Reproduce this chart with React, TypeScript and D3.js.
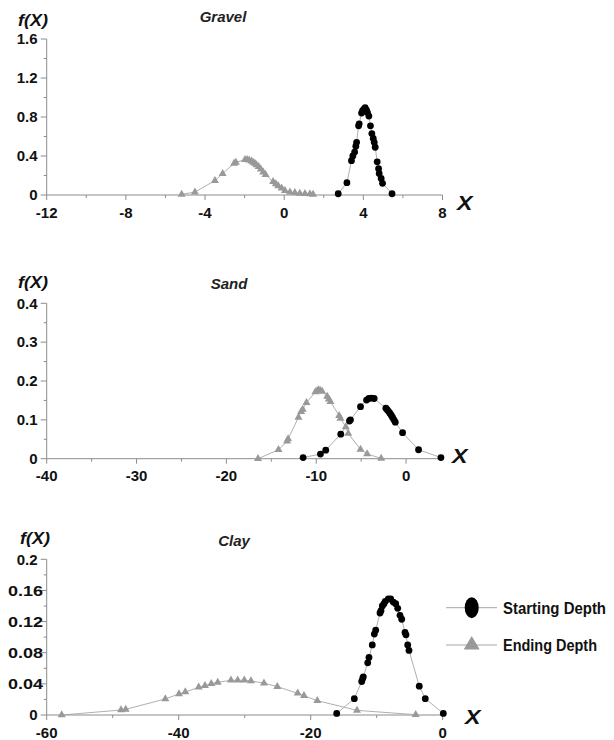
import React from "react";
import * as d3 from "d3";

// ---------- data ----------
const gravelStartX = [2.73, 3.17, 3.40, 3.47, 3.56, 3.62, 3.66, 3.76, 3.79, 3.91, 3.96, 4.03, 4.09, 4.16, 4.21, 4.28, 4.36, 4.43, 4.50, 4.55, 4.60, 4.70, 4.77, 4.80, 4.90, 4.97, 5.45];
const gravelStartY = [0.013, 0.126, 0.352, 0.40, 0.44, 0.50, 0.54, 0.71, 0.73, 0.84, 0.865, 0.88, 0.895, 0.87, 0.845, 0.81, 0.71, 0.63, 0.58, 0.54, 0.49, 0.34, 0.27, 0.22, 0.17, 0.12, 0.013];
const gravelEndX = [-5.18, -4.51, -3.50, -3.11, -2.53, -2.44, -1.98, -1.87, -1.77, -1.65, -1.57, -1.48, -1.40, -1.29, -1.18, -1.06, -0.94, -0.56, -0.42, -0.30, -0.13, 0.04, 0.29, 0.54, 0.79, 1.05, 1.30, 1.46];
const gravelEndY = [0.007, 0.03, 0.147, 0.22, 0.325, 0.335, 0.362, 0.362, 0.356, 0.346, 0.335, 0.325, 0.308, 0.29, 0.264, 0.233, 0.208, 0.137, 0.113, 0.092, 0.069, 0.044, 0.028, 0.024, 0.017, 0.014, 0.01, 0.007];

const sandStartX = [-11.46, -9.53, -8.94, -7.27, -6.30, -6.19, -5.07, -4.40, -4.15, -3.85, -3.55, -2.25, -2.10, -1.95, -1.80, -1.65, -1.50, -1.35, -1.20, -0.39, 1.39, 3.88];
const sandStartY = [0.003, 0.012, 0.022, 0.063, 0.097, 0.10, 0.134, 0.151, 0.155, 0.156, 0.155, 0.130, 0.126, 0.122, 0.117, 0.112, 0.106, 0.100, 0.094, 0.067, 0.023, 0.003];
const sandEndX = [-16.48, -14.2, -13.24, -13.13, -11.98, -11.68, -11.50, -11.09, -10.09, -9.90, -9.72, -9.53, -9.34, -8.78, -8.60, -8.42, -7.45, -7.30, -6.71, -6.44, -5.07, -4.33, -2.77];
const sandEndY = [0, 0.023, 0.045, 0.051, 0.106, 0.121, 0.127, 0.144, 0.172, 0.175, 0.177, 0.175, 0.173, 0.16, 0.153, 0.147, 0.111, 0.104, 0.082, 0.065, 0.024, 0.012, 0.001];

const clayStartX = [-16.06, -13.39, -12.27, -12.12, -12.03, -11.36, -11.17, -10.67, -10.36, -10.15, -9.5, -9.35, -9.15, -8.9, -8.7, -8.24, -7.88, -7.48, -7.12, -6.82, -6.47, -6.21, -5.71, -5.56, -5.30, -5.11, -3.55, -2.64, 0.09];
const clayStartY = [0.002, 0.021, 0.043, 0.047, 0.049, 0.067, 0.074, 0.090, 0.104, 0.109, 0.131, 0.134, 0.140, 0.143, 0.146, 0.149, 0.149, 0.145, 0.143, 0.137, 0.128, 0.123, 0.106, 0.103, 0.090, 0.083, 0.037, 0.021, 0.002];
const clayEndX = [-57.73, -48.74, -48.03, -42.03, -39.95, -39.0, -36.97, -36.02, -35.06, -34.09, -32.08, -31.06, -30.06, -29.05, -27.08, -25.06, -21.97, -21.02, -19.0, -12.99, -4.09];
const clayEndY = [0, 0.0064, 0.0073, 0.0206, 0.027, 0.0295, 0.0356, 0.0376, 0.0402, 0.042, 0.0446, 0.0446, 0.0446, 0.0437, 0.041, 0.0364, 0.0279, 0.0248, 0.0184, 0.006, 0.0004];

const gravelXTicks = [-12, -8, -4, 0, 4, 8];
const gravelYTicks = [0, 0.4, 0.8, 1.2, 1.6];
const sandXTicks = [-40, -30, -20, -10, 0];
const sandYTicks = [0, 0.1, 0.2, 0.3, 0.4];
const clayXTicks = [-60, -40, -20, 0];
const clayYTicks = [0, 0.04, 0.08, 0.12, 0.16, 0.2];

const titles = ["Gravel", "Sand", "Clay"];
const legendLabels = ["Starting Depth", "Ending Depth"];

// ---------- layout ----------
const FONT = "'Liberation Sans', Arial, Helvetica, sans-serif";
const LINE = "#a6a6a6";
const AXIS = "#8c8c8c";
const GRAY = "#999999";

const zip = (xs: number[], ys: number[]) => xs.map((x, i) => ({ x, y: ys[i] }));

const panels = [
  {
    title: titles[0], xDomain: [-12, 8], xTicks: gravelXTicks, xMinor: 2,
    yDomain: [0, 1.6], yTicks: gravelYTicks, yMinor: 0.2,
    px: [46.7, 442.5], py: [195, 39], titleX: 223, titleY: 16, fxY: 20, fxX: 18,
    XX: 457, XY: 202,
    start: zip(gravelStartX, gravelStartY), end: zip(gravelEndX, gravelEndY),
  },
  {
    title: titles[1], xDomain: [-40, 4], xTicks: sandXTicks, xMinor: 5,
    yDomain: [0, 0.4], yTicks: sandYTicks, yMinor: 0.05,
    px: [46.7, 442], py: [458.7, 303.3], titleX: 229, titleY: 283, fxY: 282, fxX: 18,
    XX: 452, XY: 455,
    start: zip(sandStartX, sandStartY), end: zip(sandEndX, sandEndY),
  },
  {
    title: titles[2], xDomain: [-60, 0], xTicks: clayXTicks, xMinor: 10,
    yDomain: [0, 0.2], yTicks: clayYTicks, yMinor: 0.02,
    px: [46.7, 442.7], py: [715, 559.3], titleX: 234, titleY: 540, fxY: 538, fxX: 20,
    XX: 465, XY: 716,
    start: zip(clayStartX, clayStartY), end: zip(clayEndX, clayEndY),
  },
];

const fmt = (v: number) => String(+v.toFixed(3));

function triPath(cx: number, cy: number, w: number, h: number) {
  return `M${cx - w / 2},${cy + h / 3}L${cx + w / 2},${cy + h / 3}L${cx},${cy - (2 * h) / 3}Z`;
}

function Panel({ p }: { p: any }) {
  const x = d3.scaleLinear().domain(p.xDomain).range(p.px);
  const y = d3.scaleLinear().domain(p.yDomain).range(p.py);
  const line = d3.line<any>().x((d) => x(d.x)).y((d) => y(d.y));
  const sortedStart = [...p.start].sort((a, b) => a.x - b.x);
  const sortedEnd = [...p.end].sort((a, b) => a.x - b.x);

  const xMinorTicks = d3.range(p.xDomain[0], p.xDomain[1] + 1e-9, p.xMinor).filter(
    (v: number) => !p.xTicks.some((t: number) => Math.abs(t - v) < 1e-9)
  );
  const yMinorTicks = d3.range(p.yDomain[0], p.yDomain[1] + 1e-9, p.yMinor).filter(
    (v: number) => !p.yTicks.some((t: number) => Math.abs(t - v) < 1e-9)
  );
  const y0 = y(0);
  const xl = p.px[0];

  return (
    <g>
      {/* axes */}
      <line x1={xl} x2={p.px[1]} y1={y0} y2={y0} stroke={AXIS} strokeWidth={1} />
      <line x1={xl} x2={xl} y1={y0} y2={p.py[1]} stroke={AXIS} strokeWidth={1} />
      {p.xTicks.map((t: number) => (
        <g key={"xt" + t}>
          <line x1={x(t)} x2={x(t)} y1={y0} y2={y0 + 5} stroke={AXIS} strokeWidth={1} />
          <text x={x(t)} y={y0 + 22.5} textAnchor="middle" fontSize={15} fontWeight="bold" fontFamily={FONT} fill="#111">
            {fmt(t)}
          </text>
        </g>
      ))}
      {xMinorTicks.map((t: number) => (
        <line key={"xm" + t} x1={x(t)} x2={x(t)} y1={y0} y2={y0 + 3} stroke={AXIS} strokeWidth={1} />
      ))}
      {p.yTicks.map((t: number) => {
        const s = fmt(t);
        const wide = s.length >= 4;
        return (
          <g key={"yt" + t}>
            <line x1={xl - 6} x2={xl} y1={y(t)} y2={y(t)} stroke={AXIS} strokeWidth={1} />
            <text
              x={wide ? 43 : 37.5}
              y={y(t) + 5.3}
              textAnchor="end"
              fontSize={15}
              fontWeight="bold"
              fontFamily={FONT}
              fill="#111"
              {...(wide ? { textLength: 35, lengthAdjust: "spacingAndGlyphs" } : {})}
            >
              {s}
            </text>
          </g>
        );
      })}
      {yMinorTicks.map((t: number) => (
        <line key={"ym" + t} x1={xl - 3} x2={xl} y1={y(t)} y2={y(t)} stroke={AXIS} strokeWidth={1} />
      ))}
      {/* labels */}
      <text x={p.titleX} y={p.titleY + 5.5} textAnchor="middle" fontSize={15} fontWeight="bold" fontStyle="italic" fontFamily={FONT} fill="#222">
        {p.title}
      </text>
      <text x={p.fxX} y={p.fxY + 6} fontSize={17} fontWeight="bold" fontStyle="italic" fontFamily={FONT} fill="#111" textLength={30} lengthAdjust="spacingAndGlyphs">
        f(X)
      </text>
      <text x={p.XX} y={p.XY + 7.5} fontSize={21} fontWeight="bold" fontStyle="italic" fontFamily={FONT} fill="#111" textLength={15.5} lengthAdjust="spacingAndGlyphs">
        X
      </text>
      {/* series */}
      <path d={line(sortedEnd) || ""} fill="none" stroke={LINE} strokeWidth={0.9} />
      <path d={line(sortedStart) || ""} fill="none" stroke={LINE} strokeWidth={0.9} />
      {p.end.map((d: any, i: number) => (
        <path key={"e" + i} d={triPath(x(d.x), y(d.y), 8, 7)} fill={GRAY} />
      ))}
      {p.start.map((d: any, i: number) => (
        <circle key={"s" + i} cx={x(d.x)} cy={y(d.y)} r={3.4} fill="#000" />
      ))}
    </g>
  );
}

export default function App() {
  return (
    <svg
      width={614}
      height={740}
      style={{ position: "absolute", left: 0, top: 0, background: "#fff" }}
    >
      <rect x={0} y={0} width={614} height={740} fill="#fff" />
      {panels.map((p, i) => (
        <Panel key={i} p={p} />
      ))}
      {/* legend */}
      <g>
        <line x1={446} x2={497} y1={607.7} y2={607.7} stroke={LINE} strokeWidth={1} />
        <ellipse cx={471.7} cy={607.7} rx={7} ry={10.5} fill="#000" />
        <text x={503} y={607.7 + 6} fontSize={16} fontWeight="bold" fontFamily={FONT} fill="#111" textLength={103} lengthAdjust="spacingAndGlyphs">
          {legendLabels[0]}
        </text>
        <line x1={446} x2={497} y1={645} y2={645} stroke={LINE} strokeWidth={1} />
        <path d={triPath(471.7, 645, 16, 13.5)} fill={GRAY} />
        <text x={503} y={645 + 6} fontSize={16} fontWeight="bold" fontFamily={FONT} fill="#111" textLength={94} lengthAdjust="spacingAndGlyphs">
          {legendLabels[1]}
        </text>
      </g>
    </svg>
  );
}
